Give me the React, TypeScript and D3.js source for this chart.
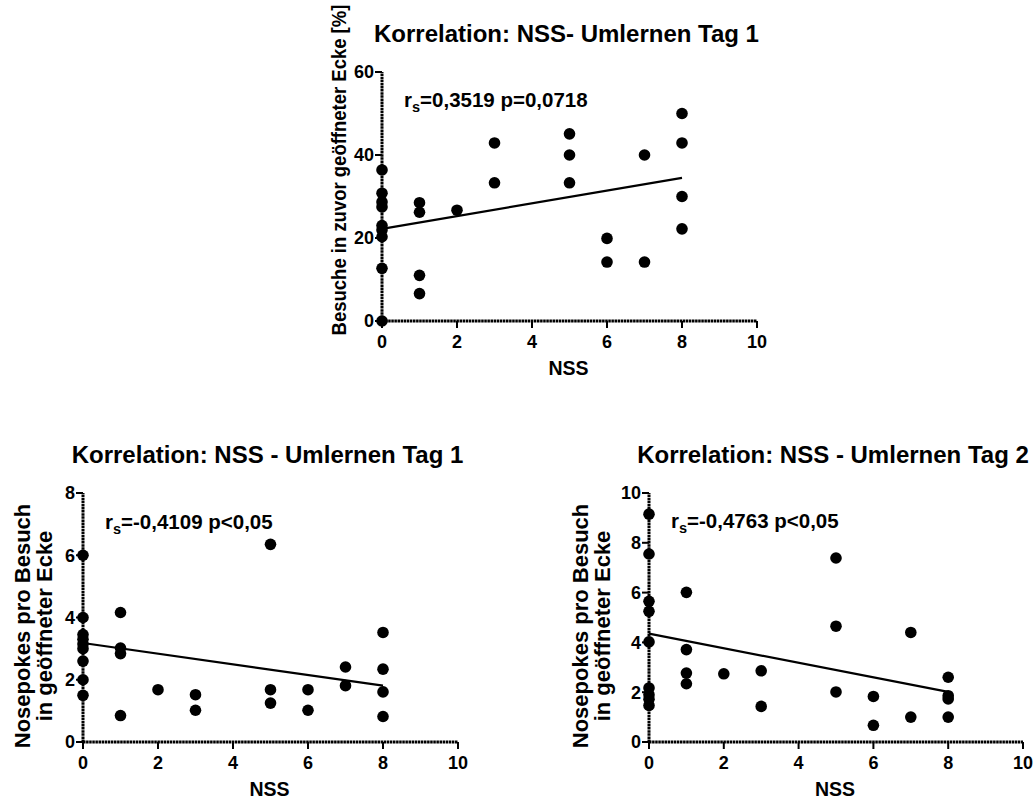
import React from 'react'
import * as d3 from 'd3'

// NSS score (x) per animal, same order for all three panels
const nss = [0, 0, 0, 0, 0, 0, 0, 0, 0, 1, 1, 1, 1, 2, 3, 3, 5, 5, 5, 6, 6, 7, 7, 8, 8, 8, 8]

// Besuche in zuvor geöffneter Ecke [%] (Umlernen Tag 1)
const visitsDay1 = [36.4, 30.8, 28.7, 27.5, 23.0, 21.9, 20.3, 12.7, 0, 28.5, 26.2, 11.0, 6.6, 26.7, 42.9, 33.3, 45.1, 40.0, 33.3, 19.9, 14.2, 40.0, 14.2, 50.0, 42.9, 30.0, 22.2]

// Nosepokes pro Besuch (Umlernen Tag 1)
const pokesDay1 = [6.0, 4.0, 3.45, 3.3, 3.15, 3.0, 2.6, 2.0, 1.5, 4.16, 3.02, 2.84, 0.85, 1.68, 1.52, 1.02, 6.35, 1.68, 1.25, 1.68, 1.02, 2.41, 1.81, 3.52, 2.34, 1.61, 0.82]

// Nosepokes pro Besuch (Umlernen Tag 2)
const pokesDay2 = [9.15, 7.55, 5.65, 5.25, 4.02, 2.17, 1.9, 1.72, 1.47, 6.01, 3.71, 2.77, 2.34, 2.74, 2.86, 1.43, 7.39, 4.65, 2.01, 1.83, 0.67, 4.4, 1.0, 2.6, 1.86, 1.73, 1.0]

// regression line: y at x=0 and x=8
const fitDay1Visits = [22.2, 34.5]
const fitDay1Pokes = [3.18, 1.81]
const fitDay2Pokes = [4.35, 2.01]

const xTicks = [0, 2, 4, 6, 8, 10]
const yTicksVisits = [0, 20, 40, 60]
const yTicksPokes1 = [0, 2, 4, 6, 8]
const yTicksPokes2 = [0, 2, 4, 6, 8, 10]

const FONT = 'Arial, "Liberation Sans", sans-serif'

type PanelProps = {
  left: number
  right: number
  top: number
  bottom: number
  ys: number[]
  fit: number[]
  yTicks: number[]
  title: string
  titleY: number
  yLabel: string[]
  yLabelSize: number
  yLabelStretch: number
  yLabelX: number
  yLabelCY: number
  statRest: string
  statY: number
}

const Panel = (p: PanelProps) => {
  const x = d3.scaleLinear().domain([0, 10]).range([p.left, p.right])
  const yMax = p.yTicks[p.yTicks.length - 1]
  const y = d3.scaleLinear().domain([0, yMax]).range([p.bottom, p.top])
  const axisStyle = { stroke: '#000', strokeWidth: 3, strokeDasharray: '2.5 0.6' }
  const cx = (p.left + p.right) / 2

  return (
    <g fontFamily={FONT} fontWeight="bold">
      <text x={cx - 3} y={p.titleY} textAnchor="middle" fontSize={24}>
        {p.title}
      </text>

      {/* axes */}
      <line x1={x(0)} x2={x(0)} y1={y(0)} y2={y(yMax)} style={axisStyle} />
      <line x1={x(0)} x2={x(10)} y1={y(0)} y2={y(0)} style={axisStyle} />
      {p.yTicks.map((t) => (
        <g key={'y' + t}>
          <line x1={x(0) - 7} x2={x(0)} y1={y(t)} y2={y(t)} stroke="#000" strokeWidth={2} />
          <text x={x(0) - 8} y={y(t)} dy="0.36em" textAnchor="end" fontSize={18}>
            {t}
          </text>
        </g>
      ))}
      {xTicks.map((t) => (
        <g key={'x' + t}>
          <line x1={x(t)} x2={x(t)} y1={y(0)} y2={y(0) + 7} stroke="#000" strokeWidth={2} />
          <text x={x(t)} y={y(0) + 27} textAnchor="middle" fontSize={18}>
            {t}
          </text>
        </g>
      ))}
      <text x={cx - 1} y={y(0) + 54} textAnchor="middle" fontSize={19.5}>
        NSS
      </text>

      {/* y label */}
      <g transform={`translate(${p.yLabelX}, ${p.yLabelCY}) rotate(-90) scale(1, ${p.yLabelStretch})`}>
        {p.yLabel.map((l, i) => (
          <text key={l} x={0} y={i * 22} textAnchor="middle" fontSize={p.yLabelSize}>
            {l}
          </text>
        ))}
      </g>

      {/* statistics */}
      <text x={x(0) + 22} y={p.statY} fontSize={20.5}>
        r<tspan fontSize={14.5} dy={5}>s</tspan>
        <tspan dy={-5}>{p.statRest}</tspan>
      </text>

      {/* regression */}
      <line x1={x(0)} x2={x(8)} y1={y(p.fit[0])} y2={y(p.fit[1])} stroke="#000" strokeWidth={2.2} />

      {/* points */}
      {p.ys.map((v, i) => (
        <circle key={i} cx={x(nss[i])} cy={y(v)} r={5.8} fill="#000" />
      ))}
    </g>
  )
}

export default function App() {
  return (
    <svg
      width={1036}
      height={800}
      style={{ position: 'absolute', left: 0, top: 0, background: '#fff' }}
    >
      <Panel
        left={382}
        right={757}
        top={72}
        bottom={321}
        ys={visitsDay1}
        fit={fitDay1Visits}
        yTicks={yTicksVisits}
        title="Korrelation: NSS- Umlernen Tag 1"
        titleY={42}
        yLabel={['Besuche in zuvor geöffneter Ecke [%]']}
        yLabelSize={18.5}
        yLabelStretch={1.12}
        yLabelX={346}
        yLabelCY={170}
        statRest="=0,3519 p=0,0718"
        statY={107}
      />
      <Panel
        left={83}
        right={458}
        top={493}
        bottom={742}
        ys={pokesDay1}
        fit={fitDay1Pokes}
        yTicks={yTicksPokes1}
        title="Korrelation: NSS - Umlernen Tag 1"
        titleY={463}
        yLabel={['Nosepokes pro Besuch', 'in geöffneter Ecke']}
        yLabelSize={22}
        yLabelStretch={1}
        yLabelX={30}
        yLabelCY={626}
        statRest="=-0,4109 p<0,05"
        statY={529}
      />
      <Panel
        left={649}
        right={1023}
        top={493}
        bottom={742}
        ys={pokesDay2}
        fit={fitDay2Pokes}
        yTicks={yTicksPokes2}
        title="Korrelation: NSS - Umlernen Tag 2"
        titleY={463}
        yLabel={['Nosepokes pro Besuch', 'in geöffneter Ecke']}
        yLabelSize={22}
        yLabelStretch={1}
        yLabelX={588}
        yLabelCY={626}
        statRest="=-0,4763 p<0,05"
        statY={528}
      />
    </svg>
  )
}
